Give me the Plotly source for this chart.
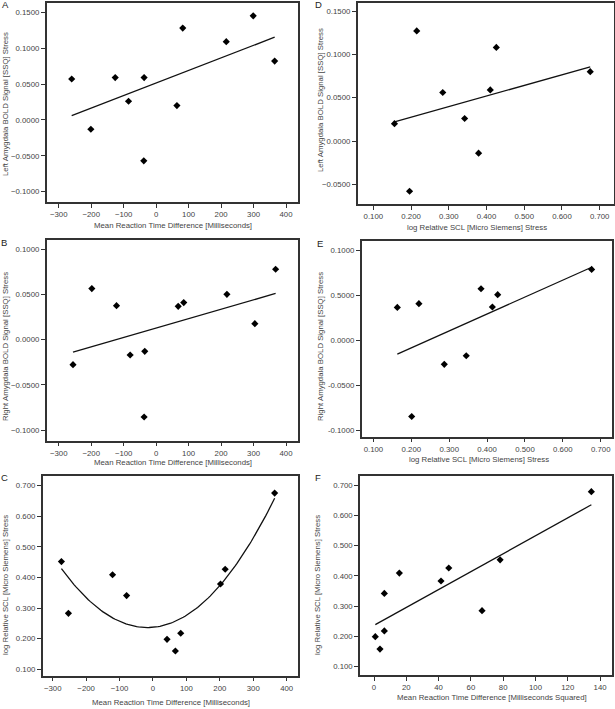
import numpy as np
import plotly.graph_objects as go

# ---- data ----
rt_a = [-260, -201, -126, -85, -37, -38, 64, 82, 216, 299, 365]
left_a = [0.057, -0.013, 0.059, 0.026, 0.059, -0.057, 0.020, 0.128, 0.109, 0.145, 0.082]

rt_b = [-256, -198, -122, -80, -35, -37, 68, 85, 218, 304, 368]
right_b = [-0.0277, 0.0565, 0.0376, -0.0170, -0.0129, -0.0856, 0.0369, 0.0410, 0.0502, 0.0177, 0.0779]

rt_c = [-274, -253, -121, -79, 42, 67, 83, 202, 216, 364]
scl_c = [0.452, 0.283, 0.409, 0.341, 0.198, 0.160, 0.218, 0.379, 0.427, 0.676]

scl_d = [0.156, 0.196, 0.215, 0.284, 0.342, 0.379, 0.410, 0.426, 0.675]
left_d = [0.020, -0.058, 0.127, 0.056, 0.026, -0.014, 0.059, 0.108, 0.080]

scl_e = [0.163, 0.201, 0.220, 0.287, 0.345, 0.384, 0.414, 0.428, 0.676]
right_e = [0.0363, -0.0850, 0.0404, -0.0270, -0.0174, 0.0570, 0.0367, 0.0504, 0.0785]

rt2_f = [0.8, 3.7, 6.4, 6.4, 15.7, 41.5, 46.3, 66.9, 78.1, 134.6]
scl_f = [0.199, 0.158, 0.342, 0.218, 0.409, 0.383, 0.426, 0.285, 0.453, 0.678]

rt_ticks = [-300, -200, -100, 0, 100, 200, 300, 400]
scl_ticks = [0.1, 0.2, 0.3, 0.4, 0.5, 0.6, 0.7]
bold_ticks_a = [-0.1, -0.05, 0.0, 0.05, 0.1, 0.15]
bold_ticks_b = [-0.1, -0.05, 0.0, 0.05, 0.1]
bold_ticks_d = [-0.05, 0.0, 0.05, 0.1, 0.15]
bold_ticks_e = [-0.1, -0.05, 0.0, 0.05, 0.1]
bold_ticktext_e = ["-0.1000", "-0.0500", "0.0000", "0.5000", "0.1000"]
rt2_ticks = [0, 20, 40, 60, 80, 100, 120, 140]

x_rt = "Mean Reaction Time Difference [Milliseconds]"
x_scl = "log Relative SCL [Micro Siemens] Stress"
x_rt2 = "Mean Reaction Time Difference [Milliseconds Squared]"
y_left = "Left Amygdala BOLD Signal [SSQ] Stress"
y_right = "Right Amygdala BOLD Signal [SSQ] Stress"
y_scl = "log Relative SCL [Micro Siemens] Stress"

W, H = 615, 709
FONT = "Liberation Sans, Arial, sans-serif"
TXT = "#444"
LINE = "#333"

panels = [
    # label, x, y, deg, xrange, yrange, xdom px, ydom px, xticks, yticks, yticktext, xfmt, yfmt,
    # xtitle, ytitle, label pos, xtitle pos, ytitle pos
    ("A", rt_a, left_a, 1, [-337, 436], [-0.1143, 0.1625], (46.7, 297.7), (3.3, 202), rt_ticks, bold_ticks_a, None, "d", ".4f",
     x_rt, y_left, (5, 5), (173, 225.7), (5, 104)),
    ("B", rt_b, right_b, 1, [-337, 436], [-0.1118, 0.1103], (46.7, 297.7), (240, 440.7), rt_ticks, bold_ticks_b, None, "d", ".4f",
     x_rt, y_right, (4, 242), (173, 462.3), (5, 347)),
    ("C", rt_c, scl_c, 2, [-330, 433], [0.0793, 0.7327], (42.7, 297.7), (475.7, 675.7), rt_ticks, scl_ticks, None, "d", ".3f",
     x_rt, y_scl, (4, 478), (171, 702.5), (5, 585)),
    ("D", scl_d, left_d, 1, [0.0585, 0.738], [-0.0727, 0.1596], (357.7, 614.0), (2.7, 204), scl_ticks, bold_ticks_d, None, ".3f", ".4f",
     x_scl, y_left, (318, 5), (477, 227.5), (320, 100)),
    ("E", scl_e, right_e, 1, [0.069, 0.729], [-0.1074, 0.1104], (361.7, 611.7), (240.7, 436.7), scl_ticks, bold_ticks_e, bold_ticktext_e, ".3f", ".4f",
     x_scl, y_right, (320, 243), (479, 459), (320, 347)),
    ("F", rt2_f, scl_f, 1, [-8.67, 147.2], [0.0725, 0.7308], (360, 611.7), (475.7, 675), rt2_ticks, scl_ticks, None, "d", ".3f",
     x_rt2, y_scl, (318, 478), (492, 697), (317, 585)),
]

fig = go.Figure()
annotations = []
title_font = dict(family=FONT, size=7.8, color=TXT)
for i, (lab, xs, ys, deg, xr, yr, xd, yd, xt, yt, ytt, xf, yf, xtitle, ytitle, lp, xtp, ytp) in enumerate(panels):
    n = "" if i == 0 else str(i + 1)
    xa, ya = "x" + n, "y" + n
    xs_arr = np.array(xs, dtype=float)
    ys_arr = np.array(ys, dtype=float)
    coef = np.polyfit(xs_arr, ys_arr, deg)
    fx = np.linspace(xs_arr.min(), xs_arr.max(), 120)
    fy = np.polyval(coef, fx)
    fig.add_trace(go.Scatter(x=fx, y=fy, mode="lines", line=dict(color="#111", width=1.3),
                             xaxis=xa, yaxis=ya, showlegend=False, hoverinfo="skip"))
    fig.add_trace(go.Scatter(x=xs, y=ys, mode="markers",
                             marker=dict(symbol="diamond", size=5.5, color="#000"),
                             xaxis=xa, yaxis=ya, showlegend=False))
    axcommon = dict(showgrid=False, zeroline=False, showline=True, mirror=True,
                    linecolor=LINE, linewidth=1.5, ticks="outside", ticklen=4,
                    tickcolor=LINE, tickwidth=1, automargin=False,
                    tickfont=dict(family=FONT, size=7.8, color=TXT))
    xaxis = dict(axcommon, domain=[xd[0] / W, xd[1] / W], range=xr, anchor=ya,
                 tickmode="array", tickvals=xt, tickformat=xf)
    yaxis = dict(axcommon, domain=[1 - yd[1] / H, 1 - yd[0] / H], range=yr, anchor=xa,
                 tickmode="array", tickvals=yt, tickformat=yf)
    if ytt is not None:
        yaxis["ticktext"] = ytt
    fig.layout["xaxis" + n] = xaxis
    fig.layout["yaxis" + n] = yaxis
    annotations.append(dict(text=lab, x=lp[0] / W, y=1 - lp[1] / H, xref="paper", yref="paper",
                            showarrow=False, xanchor="center", yanchor="middle",
                            font=dict(family=FONT, size=9.5, color="#222")))
    annotations.append(dict(text=xtitle, x=xtp[0] / W, y=1 - xtp[1] / H, xref="paper", yref="paper",
                            showarrow=False, xanchor="center", yanchor="middle", font=title_font))
    annotations.append(dict(text=ytitle, x=ytp[0] / W, y=1 - ytp[1] / H, xref="paper", yref="paper",
                            showarrow=False, xanchor="center", yanchor="middle", textangle=-90,
                            font=title_font))

fig.update_layout(width=W, height=H, margin=dict(l=0, r=0, t=0, b=0),
                  paper_bgcolor="white", plot_bgcolor="white",
                  annotations=annotations, showlegend=False,
                  font=dict(family=FONT))
fig.write_html("out.html", config={"displayModeBar": False},
               post_script="document.body.style.margin='0';document.documentElement.style.overflow='hidden';")
